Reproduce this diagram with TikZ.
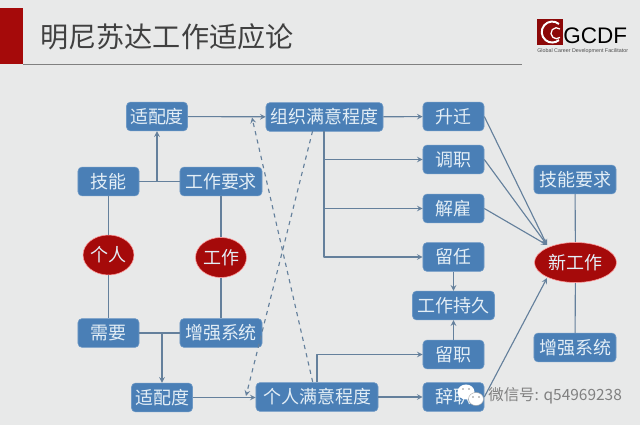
\documentclass[tikz,border=0pt]{standalone}
\usepackage{fontspec}
\setmainfont{Noto Sans CJK SC}
\newfontfamily\latinfont{Liberation Sans}
\definecolor{slidebg}{HTML}{E8E9E9}
\definecolor{boxblue}{HTML}{4A7FB6}
\definecolor{boxtext}{HTML}{E3EEF6}
\definecolor{darkred}{HTML}{A50A0A}
\definecolor{linkgray}{HTML}{64809C}
\tikzset{
  bluebox/.style={draw=boxblue!80!white, fill=boxblue, rounded corners=0.1cm, text=boxtext, inner sep=0pt,
    minimum width=1.525cm, minimum height=0.72cm, font=\fontsize{12.8}{14}\selectfont},
  widebox/.style={bluebox, minimum width=2.05cm},
  redoval/.style={ellipse, draw=red!40!white, fill=darkred, text=boxtext, inner sep=0pt,
    minimum width=1.2cm, minimum height=1cm, font=\fontsize{12.8}{14}\selectfont},
  link/.style={draw=linkgray, line width=0.8pt},
  dashlink/.style={link, dashed, ->}
}
\usetikzlibrary{shapes.geometric}
\begin{document}
\begin{tikzpicture}[x=0.025cm, y=-0.025cm, line join=round, >=stealth]
% Background and title bar
\fill[slidebg] (0,0) rectangle (640,425);
\useasboundingbox (0,0) rectangle (640,425);
\fill[darkred] (0,8) rectangle (23,64);
\draw[gray, line width=0.7pt] (23,64) -- (522,64);
\node[text=black!75] (title) at (167,37) {\fontsize{20}{24}\selectfont 明尼苏达工作适应论};
% Logo
\fill[darkred!85!black] (537,19) rectangle (563,45);
\draw[white, line width=1.4pt] (559,24) arc[start angle=-50, end angle=-310, radius=10.5];
\draw[white, line width=0.9pt] (560,29) arc[start angle=-50, end angle=-310, radius=5.5];
\node[anchor=west, inner sep=0pt] (gcdf) at (563,35.5) {\latinfont\fontsize{16}{18}\selectfont GCDF};
\node[anchor=west, inner sep=0pt, text=black!70] (gcdfsub) at (537,51) {\latinfont\fontsize{3.8}{4}\selectfont Global Career Development Facilitator};
% Left column
\node[bluebox] (fittop) at (157,116.5) {适配度};
\node[bluebox] (skill) at (108.5,181.5) {技能};
\node[widebox] (jobreq) at (221,181.5) {工作要求};
\node[redoval] (person) at (108.5,255) {个人};
\node[redoval] (job) at (221,257.5) {工作};
\node[bluebox] (need) at (108.5,333) {需要};
\node[widebox] (reinf) at (221,333) {增强系统};
\node[bluebox] (fitbot) at (162,397.5) {适配度};
% Satisfaction
\node[bluebox, minimum width=2.925cm] (orgsat) at (324.5,117) {组织满意程度};
\node[bluebox, minimum width=3.05cm] (indsat) at (317,397) {个人满意程度};
% Outcomes
\node[bluebox] (promote) at (453.5,116.5) {升迁};
\node[bluebox] (transfer) at (453.5,159.5) {调职};
\node[bluebox] (fire) at (453.5,208.5) {解雇};
\node[bluebox] (retain) at (453.5,257) {留任};
\node[widebox] (tenure) at (453.5,305.5) {工作持久};
\node[bluebox] (stay) at (453.5,354.5) {留职};
\node[bluebox] (quit) at (453.5,397) {辞职};
% New job
\node[widebox] (newskill) at (575,179.5) {技能要求};
\node[redoval, minimum width=2.05cm] (newjob) at (575.5,262.5) {新工作};
\node[widebox] (newreinf) at (575,347.5) {增强系统};
% Junction points
\coordinate (orgdown) at (324,131);
\coordinate (indup) at (317,382);
\coordinate (dashtop) at (252,117.5);
\coordinate (dashbot) at (246,396);
\coordinate (dashorg) at (312.6,131);
\coordinate (dashind) at (312.7,382);
\coordinate (hittop) at (547,245);
\coordinate (hitbot) at (547,278);
% Connectors
\draw[link, ->] (fittop) -- (orgsat);
\draw[link, ->] (orgsat) -- (promote);
\draw[link] (skill) -- (jobreq);
\draw[link, ->] (fittop |- skill) -- (fittop);
\draw[link] (skill) -- (person);
\draw[link] (person) -- (need);
\draw[link] (jobreq) -- (job);
\draw[link] (job) -- (reinf);
\draw[link] (need) -- (reinf);
\draw[link, ->] (fitbot |- need) -- (fitbot);
\draw[link, ->] (fitbot) -- (fitbot -| indsat.west);
\draw[link, ->] (indsat) -- (quit);
% Branches under the organisation box
\draw[link, ->] (orgdown) |- (retain);
\draw[link, ->] (orgdown |- transfer) -- (transfer);
\draw[link, ->] (orgdown |- fire) -- (fire);
\draw[link, ->] (indup) |- (stay);
\draw[link, ->] (retain) -- (tenure);
\draw[link, ->] (stay) -- (tenure);
% Crossing dashed lines
\draw[dashlink] (dashorg) -- (dashbot);
\draw[dashlink] (dashind) -- (dashtop);
% Into the new job
\draw[link, ->] (promote.east) -- (hittop);
\draw[link, ->] (transfer.east) -- (hittop);
\draw[link, ->] (fire.east) -- (hittop);
\draw[link, ->] (quit.east) -- (hitbot);
\draw[link] (newskill) -- (newjob);
\draw[link] (newjob) -- (newreinf);
% Watermark
\fill[white] (466,392) ellipse (8.5 and 7.5);
\fill[black!45] (463,389) circle (0.9) (469,389) circle (0.9);
\filldraw[fill=white, draw=black!35, line width=0.3pt] (476,399) ellipse (7.5 and 6.5);
\fill[black!45] (473,397) circle (0.8) (479,397) circle (0.8);
\node[anchor=west, inner sep=0pt, text=black!50] (mark) at (488,396) {\fontsize{11}{12}\selectfont 微信号: q54969238};
\end{tikzpicture}
\end{document}
